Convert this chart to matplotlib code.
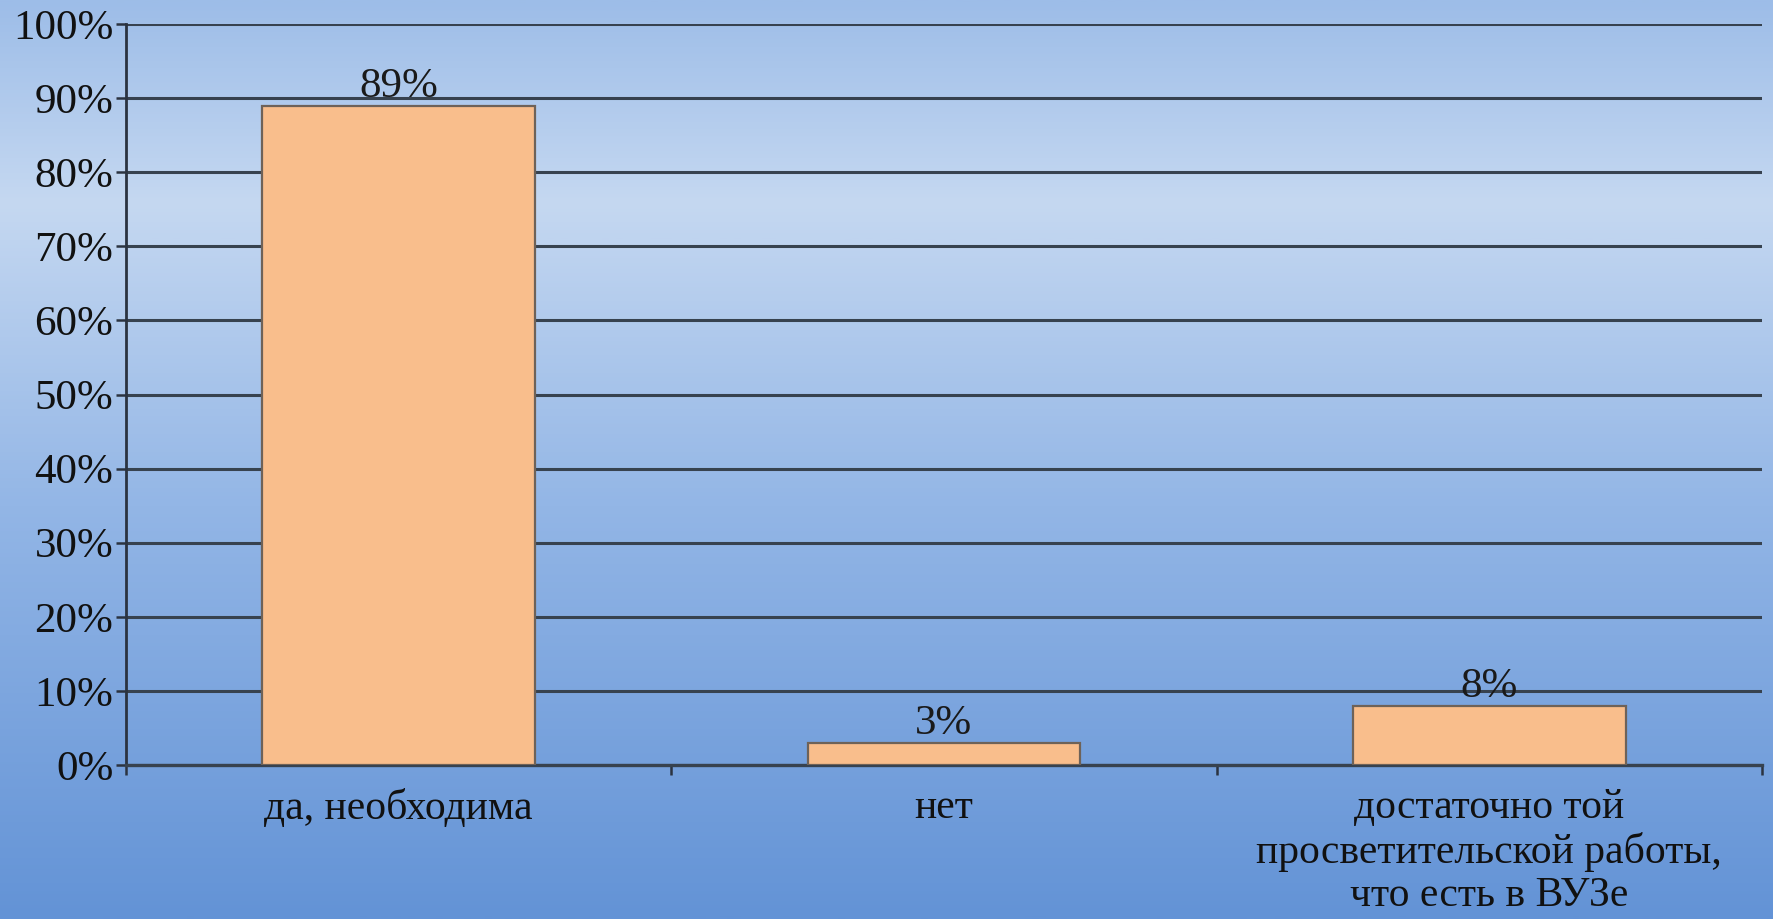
import numpy as np
import matplotlib
matplotlib.use("Agg")
import matplotlib.pyplot as plt
from matplotlib.colors import LinearSegmentedColormap
from matplotlib.ticker import PercentFormatter, FixedLocator

categories = ["да, необходима", "нет",
              "достаточно той\nпросветительской работы,\nчто есть в ВУЗе"]
values = [89, 3, 8]
value_labels = ["89%", "3%", "8%"]
yticks = [0, 10, 20, 30, 40, 50, 60, 70, 80, 90, 100]

plt.rcParams['font.family'] = ['Liberation Serif', 'DejaVu Serif']

W, H = 1774, 919
fig = plt.figure(figsize=(W / 100, H / 100), dpi=100)

# background gradient
bg = fig.add_axes([0, 0, 1, 1])
cmap = LinearSegmentedColormap.from_list(
    "bg", [(0.0, "#9dbde8"), (0.22, "#c5d8f1"), (0.55, "#93b6e6"), (1.0, "#6393d6")])
grad = np.linspace(0, 1, 512).reshape(-1, 1)
bg.imshow(grad, aspect="auto", cmap=cmap, extent=[0, 1, 1, 0])
bg.set_axis_off()
bg.set_zorder(0)

ax = fig.add_axes([126 / W, 1 - 765 / H, (1762 - 126) / W, (765 - 24) / H])
ax.set_zorder(1)
ax.patch.set_alpha(0)

x = np.arange(len(categories))
ax.bar(x, values, width=0.5, color="#f9be8c", edgecolor="#6e6258", linewidth=1.6, zorder=3)

for xi, v, lab in zip(x, values, value_labels):
    ax.annotate(lab, (xi, v), xytext=(0, 6), textcoords="offset points",
                ha="center", va="baseline", fontsize=31, color="#1a1a1a", zorder=4)

ax.set_xlim(-0.5, len(categories) - 0.5)
ax.set_ylim(0, 100)
ax.yaxis.set_major_locator(FixedLocator(yticks))
ax.yaxis.set_major_formatter(PercentFormatter(decimals=0))
ax.grid(axis="y", color="#37424f", linewidth=2.2, zorder=1)
ax.set_axisbelow(True)

ax.set_xticks(x)
ax.set_xticklabels(categories, fontsize=30, color="#111111", linespacing=1.16)
ax.tick_params(axis="x", which="major", length=0, pad=17)
ax.set_xticks(np.arange(-0.5, len(categories), 1.0), minor=True)
ax.tick_params(axis="x", which="minor", length=7.5, width=1.8, color="#2b3340", direction="out")
ax.tick_params(axis="y", length=7, width=1.8, color="#2b3340", labelsize=31,
               labelcolor="#111111", pad=2)

for s in ["top", "right"]:
    ax.spines[s].set_visible(False)
ax.spines["left"].set_color("#2b3340")
ax.spines["left"].set_linewidth(2.0)
ax.spines["bottom"].set_color("#37424f")
ax.spines["bottom"].set_linewidth(2.4)

fig.savefig("out.png", dpi=100)
